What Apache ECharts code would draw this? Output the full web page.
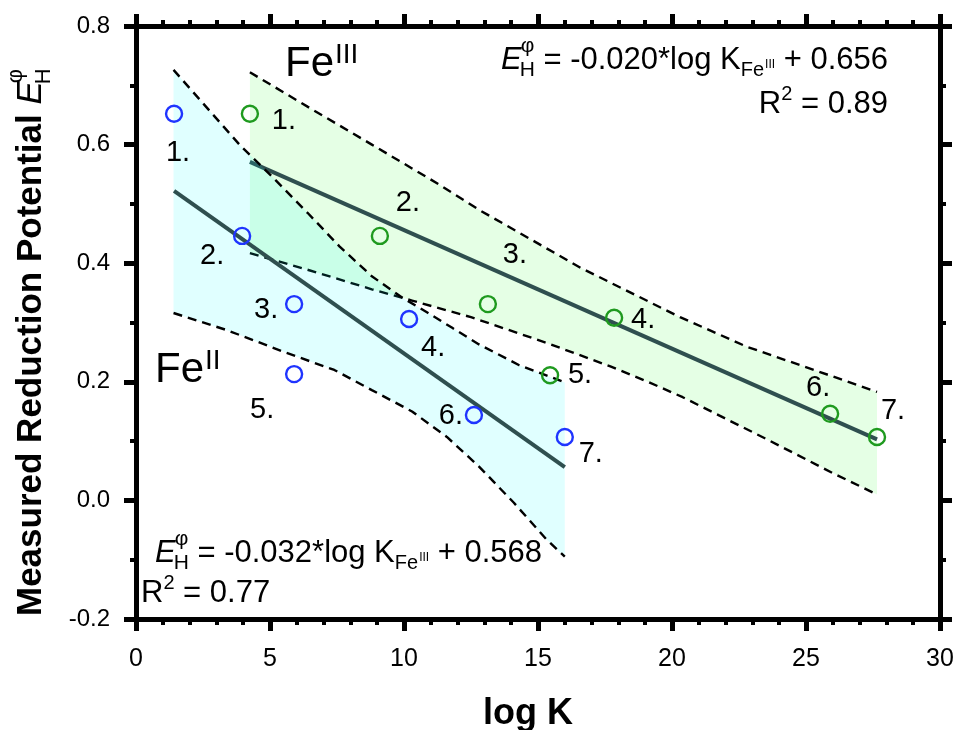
<!DOCTYPE html>
<html><head><meta charset="utf-8">
<script src="https://cdn.jsdelivr.net/npm/echarts@6/dist/echarts.min.js"></script>
<style>html,body{margin:0;padding:0;background:#fff}#c{width:959px;height:730px}</style>
</head><body><div id="c"></div>
<script>
const FONT = '"Liberation Sans", Arial, Helvetica, sans-serif';

// ---------------- data ----------------
const pointLabels = ['1.', '2.', '3.', '4.', '5.', '6.', '7.'];
const fe2LogK = [1.42, 3.96, 5.90, 10.19, 5.90, 12.61, 16.0];
const fe2E    = [0.652, 0.446, 0.331, 0.306, 0.213, 0.144, 0.107];
const fe3LogK = [4.25, 9.10, 13.13, 17.84, 15.45, 25.9, 27.65];
const fe3E    = [0.652, 0.446, 0.331, 0.308, 0.211, 0.146, 0.107];

const fe2FitX = [1.42, 16.0];
const fe2FitY = [0.522, 0.056];
const fe3FitX = [4.25, 27.65];
const fe3FitY = [0.571, 0.103];

const fe2UpperX = [1.4, 3.9, 5.1, 6.4, 7.6, 8.8, 9.9, 10.9, 11.8, 12.8, 14.3, 16.0];
const fe2UpperY = [0.726, 0.598, 0.545, 0.485, 0.428, 0.378, 0.343, 0.316, 0.291, 0.263, 0.228, 0.199];
const fe2LowerX = [1.4, 3.4, 5.6, 7.4, 8.8, 10.3, 11.6, 12.8, 14.1, 15.3, 16.0];
const fe2LowerY = [0.316, 0.287, 0.249, 0.220, 0.186, 0.150, 0.107, 0.057, -0.004, -0.065, -0.095];
const fe3UpperX = [4.25, 6.4, 8.8, 11.3, 12.8, 16.6, 20.3, 22.8, 25.3, 27.65];
const fe3UpperY = [0.722, 0.664, 0.600, 0.533, 0.490, 0.392, 0.309, 0.259, 0.220, 0.183];
const fe3LowerX = [4.25, 6.4, 8.8, 10.3, 12.5, 15.3, 17.7, 19.1, 20.4, 23.5, 26.0, 27.65];
const fe3LowerY = [0.417, 0.389, 0.356, 0.337, 0.309, 0.266, 0.226, 0.200, 0.174, 0.104, 0.046, 0.010];

const xMin = 0, xMax = 30, xStep = 5;
const yMin = -0.2, yMax = 0.8, yStep = 0.2;

// ---------------- styles ----------------
const fe2LabelOffsets = [[4, 39], [-30, 20], [-28, 6], [24, 29], [-32, 36], [-23, 1], [26, 17]];
const fe3LabelOffsets = [[34, 7], [28, -33], [27, -49], [29, 2], [30, 0], [-12, -26], [16, -26]];
const BLUE = '#1f34ff', GREEN = '#1f9a1f', FIT = '#2f4f4f';

const zip = (xs, ys) => xs.map((x, i) => [x, ys[i]]);

function bandSeries(name, ux, uy, lx, ly, color, z) {
  const poly = zip(ux, uy).concat(zip(lx, ly).reverse());
  return {
    name, type: 'custom', z, silent: true, clip: true,
    data: poly,
    renderItem(params, api) {
      if (params.dataIndex !== 0) return null;
      return { type: 'polygon', shape: { points: poly.map(p => api.coord(p)) }, style: { fill: color } };
    }
  };
}
function dashSeries(name, xs, ys, z) {
  return { name, type: 'line', z, silent: true, showSymbol: false, symbol: 'none', data: zip(xs, ys),
    lineStyle: { color: '#000', width: 2.4, type: [9, 6] } };
}
function fitSeries(name, xs, ys, z) {
  return { name, type: 'line', z, silent: true, showSymbol: false, symbol: 'none', data: zip(xs, ys),
    lineStyle: { color: FIT, width: 4 } };
}
function pointSeries(name, xs, ys, offsets, color) {
  return {
    name, type: 'scatter', z: 10, symbol: 'circle', symbolSize: 16,
    itemStyle: { color: 'rgba(0,0,0,0)', borderColor: color, borderWidth: 2.4, opacity: 1 },
    label: { show: true, position: 'inside', color: '#000', fontSize: 29, fontFamily: FONT,
      textBorderWidth: 0, opacity: 1, formatter: p => pointLabels[p.dataIndex] },
    data: xs.map((x, i) => ({ value: [x, ys[i]], label: { offset: offsets[i] } }))
  };
}

// ---------- rich annotation text built from pieces ----------
const mctx = document.createElement('canvas').getContext('2d');
function fontStr(p) { return (p.i ? 'italic ' : '') + (p.b ? 'bold ' : '') + p.s + 'px ' + FONT; }
function tw(p) { mctx.font = fontStr(p); return mctx.measureText(p.t).width; }
function textEl(p, x) {
  return { type: 'text', x: x, y: (p.dy || 0) - 0.31 * p.s, silent: true,
    style: { text: p.t, fontSize: p.s, fontFamily: FONT, fontWeight: p.b ? 'bold' : 'normal',
      fontStyle: p.i ? 'italic' : 'normal', fill: '#000', align: 'left', verticalAlign: 'middle',
      textAlign: 'left', textVerticalAlign: 'middle' } };
}
function layout(pieces) {
  let x = 0; const children = [];
  pieces.forEach(p => {
    if (p.stack) {
      let w = 0;
      p.stack.forEach(q => { children.push(textEl(q, x + (p.dx || 0) + (q.dx || 0))); w = Math.max(w, tw(q) + (q.dx || 0)); });
      x += (p.dx || 0) + w;
    } else {
      children.push(textEl(p, x + (p.dx || 0)));
      x += (p.dx || 0) + tw(p);
    }
  });
  return { children, width: x };
}
function eqPieces(rest) {
  return [
    { t: 'E', s: 31, i: true },
    { stack: [{ t: 'φ', s: 21, dy: -17, dx: 1 }, { t: 'H', s: 21, dy: 7 }], dx: -2 },
    { t: rest[0], s: 31 },
    { t: 'Fe', s: 20, dy: 7 },
    { t: 'III', s: 12, dy: -2, dx: 1 },
    { t: rest[1], s: 31 }
  ];
}
const eqTop = layout(eqPieces([' = -0.020*log K', ' + 0.656']));
const r2Top = layout([{ t: 'R', s: 31 }, { t: '2', s: 20, dy: -13 }, { t: ' = 0.89', s: 31 }]);
const eqBot = layout(eqPieces([' = -0.032*log K', ' + 0.568']));
const r2Bot = layout([{ t: 'R', s: 31 }, { t: '2', s: 20, dy: -13 }, { t: ' = 0.77', s: 31 }]);
const fe3Txt = layout([{ t: 'Fe', s: 42 }, { t: 'III', s: 28, dy: -13, dx: 1 }]);
const fe2Txt = layout([{ t: 'Fe', s: 42 }, { t: 'II', s: 28, dy: -13, dx: 1 }]);
const yTitle = layout([
  { t: 'Measured Reduction Potential ', s: 35, b: true },
  { t: 'E', s: 35, i: true },
  { stack: [{ t: 'φ', s: 22, dy: -19, dx: 1 }, { t: 'H', s: 22, dy: 9 }], dx: -3 }
]);

function makeAxis(extra, minorSplit) {
  return Object.assign({
    type: 'value',
    splitLine: { show: false },
    minorSplitLine: { show: false },
    axisLine: { show: true, onZero: false, lineStyle: { color: '#000', width: 5 } },
    axisTick: { show: true, inside: false, length: 12, lineStyle: { color: '#000', width: 5 } },
    minorTick: { show: true, splitNumber: minorSplit, length: 6, lineStyle: { color: '#000', width: 4 } }
  }, extra);
}

const option = {
  backgroundColor: '#fff',
  animation: false,
  grid: { left: 136, right: 19, top: 26, bottom: 111, containLabel: false, outerBoundsMode: 'none' },
  xAxis: [
    makeAxis({
      min: xMin, max: xMax, interval: xStep, position: 'bottom',
      axisLabel: { show: true, fontSize: 25, color: '#000', fontFamily: FONT, margin: 28 },
      name: 'log K', nameLocation: 'middle', nameGap: 77,
      nameTextStyle: { fontSize: 36, fontWeight: 'bold', fontFamily: FONT, color: '#000', padding: [0, 20, 0, 0] }
    }, 5),
    makeAxis({ min: xMin, max: xMax, interval: xStep, position: 'top', axisLabel: { show: false } }, 5)
  ],
  yAxis: [
    makeAxis({
      min: yMin, max: yMax, interval: yStep, position: 'left',
      axisLabel: { show: true, fontSize: 24, color: '#000', fontFamily: FONT, margin: 26,
        formatter: v => v.toFixed(1) }
    }, 2),
    makeAxis({ min: yMin, max: yMax, interval: yStep, position: 'right', axisLabel: { show: false } }, 2)
  ],
  series: [
    bandSeries('Fe(III) band', fe3UpperX, fe3UpperY, fe3LowerX, fe3LowerY, 'rgba(0,255,0,0.10)', 1),
    dashSeries('Fe(III) upper', fe3UpperX, fe3UpperY, 2),
    dashSeries('Fe(III) lower', fe3LowerX, fe3LowerY, 2),
    fitSeries('Fe(III) fit', fe3FitX, fe3FitY, 2),
    bandSeries('Fe(II) band', fe2UpperX, fe2UpperY, fe2LowerX, fe2LowerY, 'rgba(0,255,255,0.12)', 3),
    dashSeries('Fe(II) upper', fe2UpperX, fe2UpperY, 4),
    dashSeries('Fe(II) lower', fe2LowerX, fe2LowerY, 4),
    fitSeries('Fe(II) fit', fe2FitX, fe2FitY, 4),
    pointSeries('Fe(II)', fe2LogK, fe2E, fe2LabelOffsets, BLUE),
    pointSeries('Fe(III)', fe3LogK, fe3E, fe3LabelOffsets, GREEN)
  ],
  graphic: [
    { type: 'group', x: 888 - eqTop.width, y: 70, children: eqTop.children },
    { type: 'group', x: 888 - r2Top.width, y: 114, children: r2Top.children },
    { type: 'group', x: 155, y: 563, children: eqBot.children },
    { type: 'group', x: 141, y: 603, children: r2Bot.children },
    { type: 'group', x: 285, y: 77, children: fe3Txt.children },
    { type: 'group', x: 155, y: 383, children: fe2Txt.children },
    { type: 'group', x: 42, y: 616, rotation: Math.PI / 2, children: yTitle.children }
  ]
};

const chart = echarts.init(document.getElementById('c'));
chart.setOption(option);
</script>
</body></html>
